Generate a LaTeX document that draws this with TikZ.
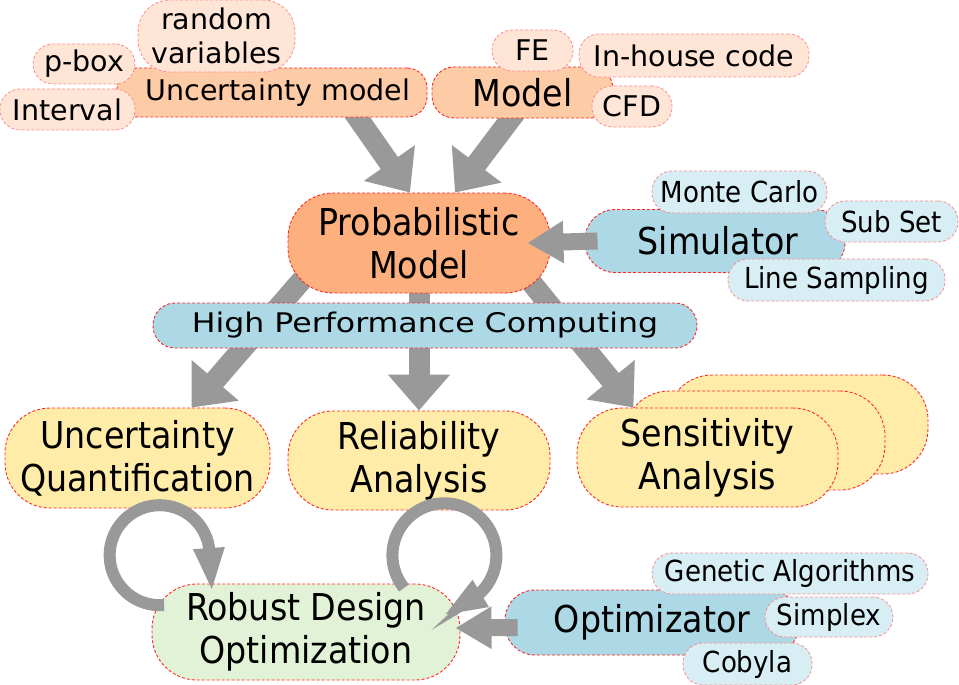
\documentclass[tikz,border=0pt]{standalone}
\usepackage{fontspec}
\setmainfont{DejaVu Sans}
\newfontfamily\condfont{DejaVu Sans Condensed}
\newfontfamily\widefont[FakeStretch=1.17]{DejaVu Sans}
\usetikzlibrary{arrows.meta, backgrounds}

\begin{document}
\begin{tikzpicture}[x=1pt, y=-1pt,
    box/.style={draw=red!85, densely dashed, line width=0.9pt, rounded corners=#1, inner sep=0pt, align=center},
    box/.default=45pt,
    bigbox/.style={box=45pt, font=\condfont\fontsize{37}{43}\selectfont},
    tagbox/.style={draw=red!45, densely dashed, line width=0.8pt, rounded corners=20pt, inner sep=0pt, align=center},
    toptag/.style={tagbox, fill=peachlight, font=\fontsize{28.5}{34}\selectfont},
    sidetag/.style={tagbox, fill=bluelight, font=\condfont\fontsize{29}{34}\selectfont},
    fatarrow/.style={draw=arrowgray, line width=21pt, -{Triangle[length=36pt, width=60pt]}},
    sidearrow/.style={draw=arrowgray, line width=17pt, -{Triangle[length=36pt, width=40pt]}},
    looparrow/.style={draw=arrowgray, line width=12pt, -{Triangle[length=44pt, width=28pt]}}]

    % Define colors for the boxes and the arrows
    \definecolor{peach}{HTML}{FDCBA6}
    \definecolor{peachlight}{HTML}{FEE5D6}
    \definecolor{softorange}{HTML}{FDAF7E}
    \definecolor{softblue}{HTML}{ADD8E6}
    \definecolor{bluelight}{HTML}{D6EEF4}
    \definecolor{softyellow}{HTML}{FFECA8}
    \definecolor{softgreen}{HTML}{E2F2D6}
    \definecolor{arrowgray}{HTML}{999999}

    \useasboundingbox (0,0) rectangle (959,685);

    % Uncertainty model with its tags
    \node[box=20pt, fill=peach, minimum width=310pt, minimum height=49pt, font=\fontsize{28.5}{34}\selectfont] (unc) at (272,92.5) {\hspace*{12pt}Uncertainty model};
    \node[toptag, rounded corners=32pt, minimum width=157pt, minimum height=72pt] (randvar) at (216.5,36) {random\\variables};
    \node[toptag, minimum width=102pt, minimum height=40pt] (pbox) at (84,64) {p-box};
    \node[toptag, minimum width=135pt, minimum height=41pt] (interval) at (67.5,109.5) {Interval};

    % Model with its tags
    \node[box=22pt, fill=peach, minimum width=181pt, minimum height=51pt, font=\condfont\fontsize{37}{43}\selectfont] (model) at (522.5,92.5) {Model};
    \node[toptag, minimum width=81pt, minimum height=41pt] (fe) at (532.5,50.5) {FE};
    \node[toptag, minimum width=230pt, minimum height=43pt] (inhouse) at (694,55.5) {In-house code};
    \node[toptag, minimum width=80pt, minimum height=41pt] (cfd) at (632,106.5) {CFD};

    % Probabilistic model in the middle
    \node[bigbox, fill=softorange, minimum width=262pt, minimum height=100pt] (prob) at (419,243) {Probabilistic\\Model};

    % Simulator with its tags
    \node[bigbox, box=30pt, fill=softblue, minimum width=260pt, minimum height=63pt] (sim) at (715,241) {\hspace*{6pt}Simulator};
    \node[sidetag, minimum width=175pt, minimum height=42pt] (montecarlo) at (739.5,192) {Monte Carlo};
    \node[sidetag, minimum width=133pt, minimum height=41pt] (subset) at (891.5,221.5) {Sub Set};
    \node[sidetag, minimum width=217pt, minimum height=42pt] (linesamp) at (836.5,280) {Line Sampling};

    % The three analyses
    \node[bigbox, fill=softyellow, minimum width=265pt, minimum height=100pt] (uq) at (137.5,458) {Uncertainty\\Quantification};
    \node[bigbox, fill=softyellow, minimum width=262pt, minimum height=99pt] (rel) at (419,460.5) {Reliability\\Analysis};
    \node[bigbox, fill=softyellow, minimum width=261pt, minimum height=99pt] (sensback) at (797.5,424.5) {};
    \node[bigbox, fill=softyellow, minimum width=261pt, minimum height=99pt] (sensmid) at (754.5,440.5) {};
    \node[bigbox, fill=softyellow, minimum width=261pt, minimum height=99pt] (sens) at (707.5,457.5) {Sensitivity\\Analysis};

    % Robust design optimization at the bottom
    \node[bigbox, fill=softgreen, minimum width=308pt, minimum height=96pt] (rdo) at (306,632) {Robust Design\\Optimization};

    % Optimizator with its tags
    \node[bigbox, box=30pt, fill=softblue, minimum width=294pt, minimum height=65pt] (opt) at (652,622.5) {Optimizator};
    \node[sidetag, minimum width=276pt, minimum height=41pt] (genetic) at (790,573.5) {Genetic Algorithms};
    \node[sidetag, minimum width=128pt, minimum height=40pt] (simplex) at (829,617) {Simplex};
    \node[sidetag, minimum width=129pt, minimum height=42pt] (cobyla) at (747.5,664) {Cobyla};

    % High performance computing bar across the arrows
    \node[box=22pt, fill=softblue, minimum width=544pt, minimum height=45pt, font=\widefont\fontsize{27}{32}\selectfont] (hpc) at (425,325.5) {High Performance Computing};

    % Arrows that run behind the boxes
    \begin{pgfonlayer}{background}
        \draw[fatarrow] ([xshift=68pt]unc.center) -- ([xshift=-9pt]prob.north);
        \draw[fatarrow] ([xshift=2pt,yshift=-8pt]model.center) -- ([xshift=36pt]prob.north);
        \draw[fatarrow] ([xshift=-85pt]prob.center) -- (uq.43);
        \draw[fatarrow] (prob) -- (rel);
        \draw[fatarrow] ([xshift=80pt]prob.center) -- (sens.146);
    \end{pgfonlayer}

    % Arrows from the solvers
    \draw[sidearrow] ([xshift=13pt]sim.west) -- ([xshift=-23pt]prob.east);
    \draw[sidearrow] ([xshift=13pt,yshift=-5pt]opt.west) -- ([xshift=-5pt,yshift=4pt]rdo.east);

    % Loops back into the design optimization
    \coordinate (uqloop) at (164,605);
    \coordinate (uqtip) at (212,592);
    \coordinate (relloop) at (404,588);
    \coordinate (reltip) at (443,616);
    \draw[looparrow] (uqloop) arc[start angle=85, end angle=349, radius=50] -- (uqtip);
    \draw[looparrow] (relloop) arc[start angle=141, end angle=410, radius=52] -- (reltip);

\end{tikzpicture}
\end{document}
